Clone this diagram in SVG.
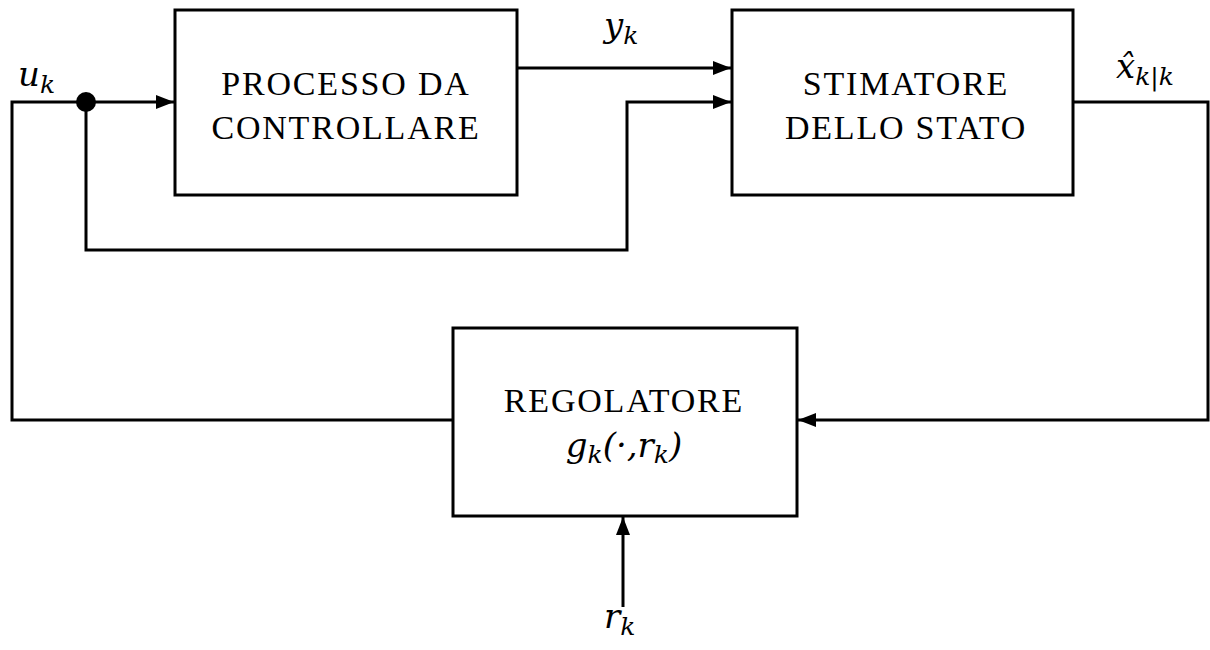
<svg xmlns="http://www.w3.org/2000/svg" width="1210" height="650" viewBox="0 0 1210 650">
<style>
.box{fill:#fff;stroke:#000;stroke-width:3}
.ln{fill:none;stroke:#000;stroke-width:3}
.t{font-family:"Liberation Serif",serif;font-size:34px;letter-spacing:1.8px;text-anchor:middle;fill:#000}
.m{font-family:"DejaVu Serif","Liberation Serif",serif;font-style:italic;font-size:34px;fill:#000}
.s{font-size:25px}
</style>
<defs>
<marker id="arr" markerWidth="18" markerHeight="14" refX="18" refY="7" orient="auto" markerUnits="userSpaceOnUse" viewBox="0 0 18 14">
<path d="M0,0 L18,7 L0,14 z" fill="#000"/>
</marker>
</defs>
<g id="connectors">
<path class="ln" d="M453,420 H12 V102 H174" marker-end="url(#arr)"/>
<path class="ln" d="M86,102 V250 H627 V102 H731" marker-end="url(#arr)"/>
<path class="ln" d="M517,68 H731" marker-end="url(#arr)"/>
<path class="ln" d="M1073,102 H1208 V420 H798" marker-end="url(#arr)"/>
<path class="ln" d="M623,607 V517" marker-end="url(#arr)"/>
<circle cx="86" cy="102" r="10" fill="#000"/>
</g>
<g id="processo">
<rect class="box" x="175" y="10" width="342" height="185"/>
<text class="t" x="346" y="95">PROCESSO DA</text>
<text class="t" x="346" y="139">CONTROLLARE</text>
</g>
<g id="stimatore">
<rect class="box" x="732" y="10" width="341" height="185"/>
<text class="t" x="906" y="95">STIMATORE</text>
<text class="t" x="906" y="139">DELLO STATO</text>
</g>
<g id="regolatore">
<rect class="box" x="453" y="328" width="344" height="188"/>
<text class="t" x="624" y="412">REGOLATORE</text>
<text class="m" x="624" y="457" text-anchor="middle">g<tspan class="s" dy="6">k</tspan><tspan dy="-6">(·,r</tspan><tspan class="s" dy="6">k</tspan><tspan dy="-6">)</tspan></text>
</g>
<g id="labels">
<text class="m" x="18" y="86">u<tspan class="s" dy="7">k</tspan></text>
<text class="m" x="604" y="37">y<tspan class="s" dy="7">k</tspan></text>
<text class="m" x="1116" y="78">x̂<tspan class="s" dy="7">k|k</tspan></text>
<text class="m" x="604" y="628">r<tspan class="s" dy="7">k</tspan></text>
</g>
</svg>
